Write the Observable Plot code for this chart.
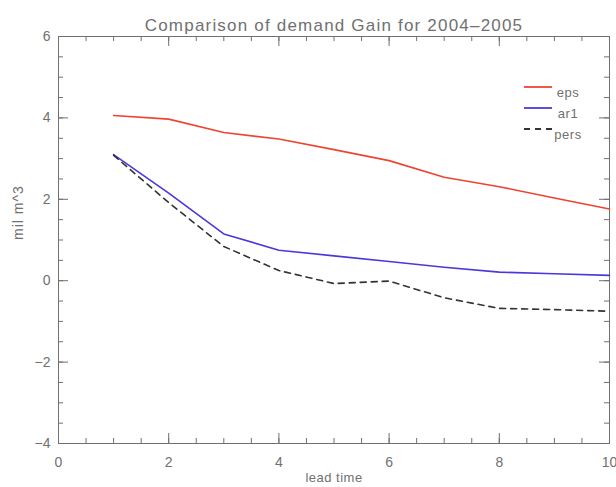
<!DOCTYPE html>
<html>
<head>
<meta charset="utf-8">
<script src="https://cdn.jsdelivr.net/npm/d3@7"></script>
<script src="https://cdn.jsdelivr.net/npm/@observablehq/plot@0.6"></script>
<style>
  html, body { margin: 0; padding: 0; background: #fff; }
  #chart { position: relative; width: 616px; height: 487px; }
</style>
</head>
<body>
<div id="chart"></div>
<script>
// ---- data ----
const leadTime = [1, 2, 3, 4, 5, 6, 7, 8, 9, 10];
const eps  = [4.06, 3.97, 3.64, 3.48, 3.22, 2.95, 2.54, 2.31, 2.03, 1.76];
const ar1  = [3.10, 2.15, 1.15, 0.75, 0.61, 0.47, 0.33, 0.21, 0.17, 0.13];
const pers = [3.08, 1.92, 0.84, 0.25, -0.07, -0.01, -0.42, -0.68, -0.71, -0.75];

const seriesNames  = ["eps", "ar1", "pers"];
const seriesColors = ["#ee4433", "#4a38dc", "#333333"];
const seriesDashes = [null, null, "6,5"];

const xMajorTicks = [0, 2, 4, 6, 8, 10];
const xMinorTicks = d3.range(0, 10.01, 0.5);
const yMajorTicks = [-4, -2, 0, 2, 4, 6];
const yMinorTicks = d3.range(-4, 6.01, 0.5);

const titleText = "Comparison of demand Gain for 2004\u20132005";
const xLabel = "lead time";
const yLabel = "mil m^3";

// ---- build tables ----
const allSeries = [eps, ar1, pers];
const seriesRows = seriesNames.map((name, i) =>
  leadTime.map((t, j) => ({series: name, t, v: allSeries[i][j]}))
);

// ---- layout ----
const W = 616, H = 487;
const mL = 58, mR = 7, mT = 36, mB = 44;
const fw = W - mL - mR, fh = H - mT - mB;
const gray = "#707070";
const font = "Liberation Sans, Arial, sans-serif";

const majorLen = 10, minorLen = 5;

const lineMarks = seriesRows.map((rows, i) =>
  Plot.line(rows, {
    x: "t", y: "v",
    stroke: seriesColors[i],
    strokeDasharray: seriesDashes[i] || undefined,
    strokeWidth: 1.6
  })
);

const plot = Plot.plot({
  width: W,
  height: H,
  marginLeft: mL,
  marginRight: mR,
  marginTop: mT,
  marginBottom: mB,
  style: {fontFamily: font, color: gray, background: "#fff", overflow: "visible"},
  x: {domain: [0, 10]},
  y: {domain: [-4, 6]},
  marks: [
    Plot.frame({stroke: gray, strokeWidth: 1}),
    // bottom ticks (inward)
    Plot.tickX(xMajorTicks, {x: d => d, insetTop: fh - majorLen, stroke: gray}),
    Plot.tickX(xMinorTicks, {x: d => d, insetTop: fh - minorLen, stroke: gray}),
    // top ticks
    Plot.tickX(xMajorTicks, {x: d => d, insetBottom: fh - majorLen, stroke: gray}),
    Plot.tickX(xMinorTicks, {x: d => d, insetBottom: fh - minorLen, stroke: gray}),
    // left ticks
    Plot.tickY(yMajorTicks, {y: d => d, insetRight: fw - majorLen, stroke: gray}),
    Plot.tickY(yMinorTicks, {y: d => d, insetRight: fw - minorLen, stroke: gray}),
    // right ticks
    Plot.tickY(yMajorTicks, {y: d => d, insetLeft: fw - majorLen, stroke: gray}),
    Plot.tickY(yMinorTicks, {y: d => d, insetLeft: fw - minorLen, stroke: gray}),
    Plot.axisX({ticks: xMajorTicks, tickSize: 0, tickPadding: 14, fontSize: 14, label: null, color: gray}),
    Plot.axisY({ticks: yMajorTicks, tickSize: 0, tickPadding: 8, fontSize: 14, label: null, color: gray}),
    // data lines
    ...lineMarks,
    // title and axis labels
    Plot.text([titleText], {text: d => d, frameAnchor: "top", dy: -18, fontSize: 17, fill: gray}),
    Plot.text([xLabel], {text: d => d, frameAnchor: "bottom", dy: 38, fontSize: 13, fill: gray}),
    Plot.text([yLabel], {text: d => d, frameAnchor: "left", dx: -40, rotate: -90, fontSize: 14, fill: gray})
  ]
});

document.getElementById("chart").appendChild(plot);

// letter spacing to mimic the wide plotter font
const svg = d3.select(plot);
svg.selectAll("text").filter(function() { return this.textContent === titleText; })
  .style("letter-spacing", "1.2px");
svg.selectAll("text").filter(function() { return this.textContent === yLabel; })
  .style("letter-spacing", "1px");
svg.selectAll("text").filter(function() { return this.textContent === xLabel; })
  .style("letter-spacing", "0.5px");

// ---- legend ----
const lg = svg.append("g").attr("class", "legend");
const lineX0 = 524, lineX1 = 552, textX = 568, y0 = 87, step = 21;
seriesNames.forEach((name, i) => {
  const y = y0 + i * step;
  lg.append("line")
    .attr("x1", lineX0).attr("x2", lineX1).attr("y1", y).attr("y2", y)
    .attr("stroke", seriesColors[i]).attr("stroke-width", 1.8)
    .attr("stroke-dasharray", seriesDashes[i]);
  lg.append("text")
    .attr("x", textX).attr("y", y + 5).attr("dy", "0.35em")
    .attr("fill", gray).attr("font-size", 13).attr("font-family", font)
    .style("letter-spacing", "0.5px")
    .text(name);
});
</script>
</body>
</html>
